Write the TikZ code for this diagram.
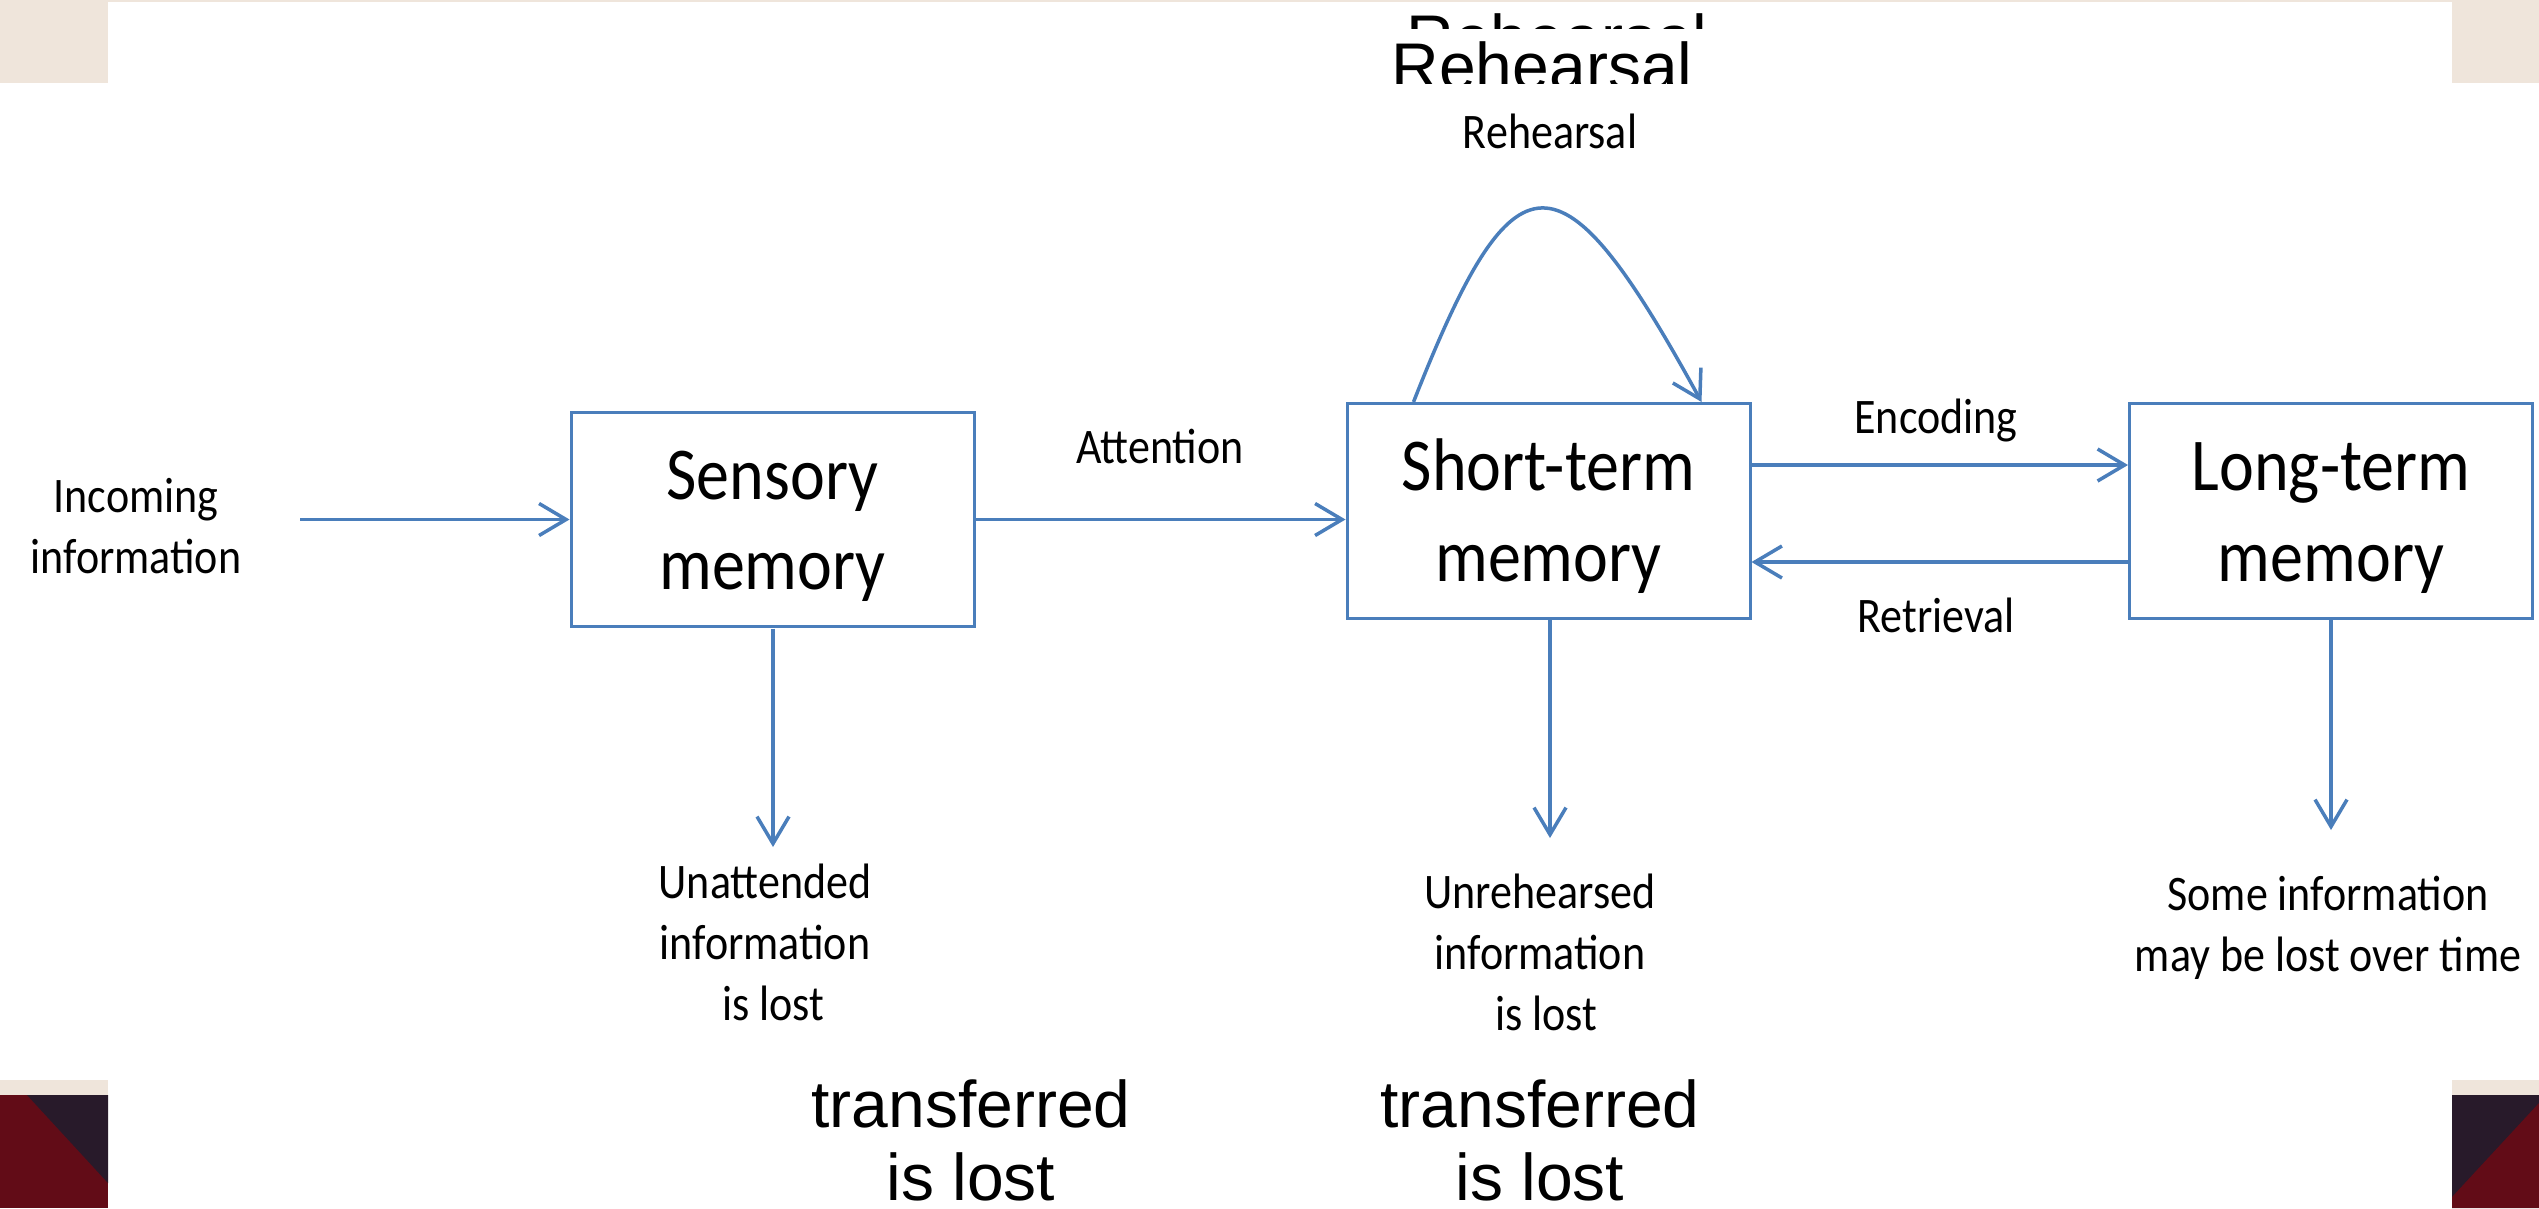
\documentclass[tikz,border=0pt]{standalone}
\usepackage{fontspec}
\setmainfont{Carlito}
\newfontfamily\arialfont{Liberation Sans}
\usetikzlibrary{arrows.meta}
\definecolor{lineblue}{RGB}{74,126,187}
\definecolor{beige}{RGB}{239,229,219}
\definecolor{darkred}{RGB}{98,12,23}
\definecolor{darknavy}{RGB}{40,26,42}
\newcommand\boxlines[2]{\raisebox{-6pt}[\height][\depth]{\begin{tabular}{@{}c@{}}#1\\#2\end{tabular}}}
\newcommand\toplines[1]{\begin{tabular}[t]{@{}c@{}}#1\end{tabular}}
\newcommand\bigtwo[2]{\vtop{\baselineskip=73pt\halign{\hfil##\hfil\cr #1\cr #2\cr}}}
\begin{document}
\begin{tikzpicture}[x=1pt,y=-1pt,
  membox/.style={draw=lineblue, line width=3pt, minimum width=403pt, minimum height=190pt,
    inner sep=0pt, yscale=1.13, font=\fontsize{66}{80.5}\selectfont},
  small/.style={inner sep=0pt, yscale=1.13, anchor=base, font=\fontsize{44}{54}\selectfont},
  big/.style={inner sep=0pt, anchor=base, font=\arialfont\fontsize{66}{73}\selectfont},
  conn/.style={draw=lineblue, line width=3.5pt, -{Straight Barb[length=27pt,width=32pt]}}]
\useasboundingbox (0,0) rectangle (2539,1208);
\fill[white] (0,0) rectangle (2539,1208);
% slide decorations
\fill[beige] (0,0) rectangle (2539,1.5);
\fill[beige] (0,0) rectangle (108,83);
\fill[beige] (2452,0) rectangle (2539,83);
\fill[beige] (0,1080) rectangle (108,1095);
\fill[darkred] (0,1095) rectangle (108,1208);
\fill[darknavy] (27,1095) -- (108,1095) -- (108,1183) -- cycle;
\fill[beige] (2452,1080) rectangle (2539,1095);
\fill[darknavy] (2452,1095) rectangle (2539,1208);
\fill[darkred] (2539,1103) -- (2539,1208) -- (2452,1208) -- (2452,1197) -- cycle;
% clipped headings
\begin{scope}
  \clip (1300,0) rectangle (1800,28);
  \node[big] (rehA) at (1557,61) {Rehearsal};
\end{scope}
\begin{scope}
  \clip (1300,28) rectangle (1800,83);
  \node[big] (rehB) at (1542,89) {Rehearsal};
\end{scope}
% boxes
\node[membox] (sensory) at (772.5,519.5) {\boxlines{Sensory}{memory}};
\node[membox] (stm) at (1548.5,511) {\boxlines{Short-term}{memory}};
\node[membox] (ltm) at (2331,511) {\boxlines{Long-term}{memory}};
% labels
\node[small] (incoming) at (136,512) {\toplines{Incoming\\information}};
\node[small] (attention) at (1160,463) {Attention};
\node[small] (encoding) at (1936,433) {Encoding};
\node[small] (retrieval) at (1936,632) {Retrieval};
\node[small] (rehearsal) at (1550,148) {Rehearsal};
\node[small] (unatt) at (765,898) {\toplines{Unattended\\information\\\hspace*{16pt}is lost}};
\node[small] (unreh) at (1540,908) {\toplines{Unrehearsed\\information\\\hspace*{12pt}is lost}};
\node[small] (some) at (2328,910) {\toplines{Some information\\may be lost over time}};
\node[big] (transA) at (971,1127) {\bigtwo{transferred}{is lost}};
\node[big] (transB) at (1540,1127) {\bigtwo{transferred}{is lost}};
% connectors
\coordinate (inStart) at (300,519.5);
\coordinate (lossS) at (773,847);
\coordinate (lossST) at (1550,838);
\coordinate (lossL) at (2331,830);
\draw[conn] (inStart) -- (sensory.west);
\draw[conn] (sensory.east) -- (sensory.east -| stm.west);
\draw[conn] ([yshift=46pt]stm.east) -- ([yshift=46pt]ltm.west);
\draw[conn] ([yshift=-51pt]ltm.west) -- ([yshift=-51pt]stm.east);
\draw[conn] (sensory.south -| lossS) -- (lossS);
\draw[conn] (stm.south -| lossST) -- (lossST);
\draw[conn] (ltm.south) -- (lossL);
\draw[conn] ([xshift=68pt]stm.north west) .. controls (1515,144) and (1560,144) .. ([xshift=356pt]stm.north west);
\end{tikzpicture}
\end{document}
